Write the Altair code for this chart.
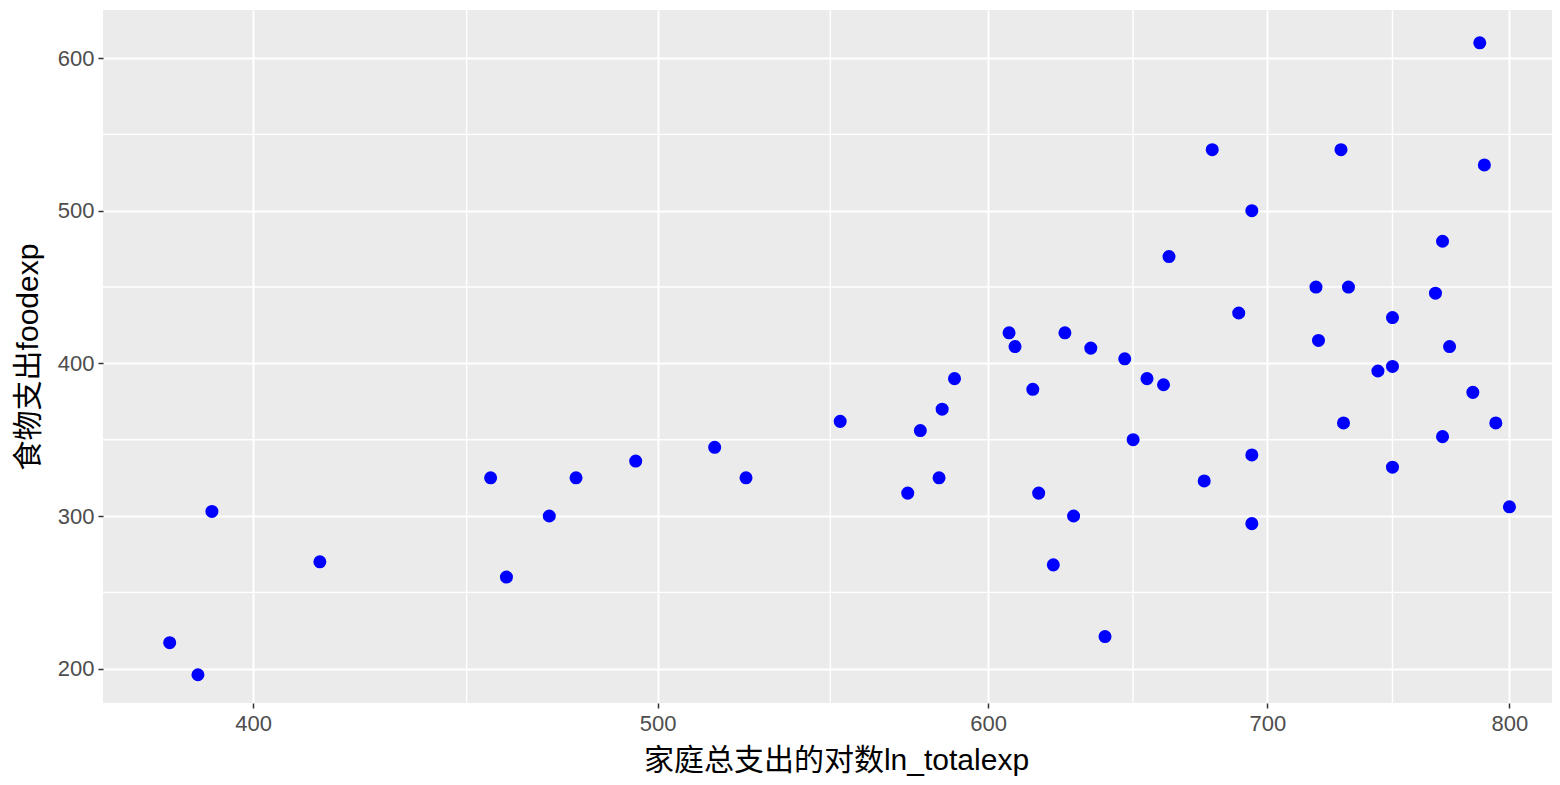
import altair as alt
import pandas as pd

# data
totalexp = [382, 388, 391, 415, 456, 460, 471, 478, 494, 516, 525, 553, 574, 578,
            584, 585, 589, 607, 609, 615, 617, 622, 626, 629, 635, 640, 647, 650,
            655, 661, 663, 676, 679, 689, 694, 694, 694, 719, 720, 729, 730, 732,
            744, 750, 750, 750, 768, 771, 771, 774, 784, 787, 789, 794, 800]
foodexp = [217, 196, 303, 270, 325, 260, 300, 325, 336, 345, 325, 362, 315, 356,
           325, 370, 390, 420, 411, 383, 315, 268, 420, 300, 410, 221, 403, 350,
           390, 386, 470, 323, 540, 433, 500, 340, 295, 450, 415, 540, 361, 450,
           395, 430, 398, 332, 446, 480, 352, 411, 381, 610, 530, 361, 306]

x_ticks = [400, 500, 600, 700, 800]
y_ticks = [200, 300, 400, 500, 600]
x_minor = [450, 550, 650, 750]
y_minor = [250, 350, 450, 550]

x_title = "家庭总支出的对数ln_totalexp"
y_title = "食物支出foodexp"

FONT = "Liberation Sans, Arial, Noto Sans CJK SC, sans-serif"

df = pd.DataFrame({"totalexp": totalexp, "foodexp": foodexp})

xscale = alt.Scale(type="log", domain=[368.2, 819], nice=False, zero=False)
yscale = alt.Scale(domain=[177.5, 631.5], nice=False, zero=False)

W, H = 1449, 693

xaxis = alt.Axis(values=x_ticks, format="d", title=x_title,
                 titleX=733, titleY=57, titleAlign="center",
                 titleBaseline="middle", labelPadding=5)
yaxis = alt.Axis(values=y_ticks, format="d", title=y_title,
                 titleX=-75, titleY=H / 2, titleAngle=-90,
                 titleAlign="center", titleBaseline="middle",
                 labelPadding=4)

xminor = alt.Chart(pd.DataFrame({"totalexp": x_minor})).mark_rule(
    color="white", strokeWidth=1.4
).encode(x=alt.X("totalexp:Q", scale=xscale, axis=xaxis))

yminor = alt.Chart(pd.DataFrame({"foodexp": y_minor})).mark_rule(
    color="white", strokeWidth=1.4
).encode(y=alt.Y("foodexp:Q", scale=yscale, axis=yaxis))

points = alt.Chart(df).mark_circle(
    color="#0000FF", opacity=1, size=170
).encode(
    x=alt.X("totalexp:Q", scale=xscale, axis=xaxis),
    y=alt.Y("foodexp:Q", scale=yscale, axis=yaxis),
)

chart = alt.layer(xminor, yminor, points).properties(
    width=W, height=H,
    padding={"left": 95, "top": 2, "right": 0, "bottom": 74},
    autosize=alt.AutoSizeParams(type="none"),
    background="white",
).configure_view(
    fill="#EBEBEB", strokeWidth=0
).configure_axis(
    grid=True, gridColor="white", gridWidth=2, domain=False,
    tickColor="#333333", tickWidth=1.5, tickSize=5,
    labelFont=FONT, labelFontSize=22, labelColor="#4D4D4D",
    titleFont=FONT, titleFontSize=30, titleColor="#000000",
    titleFontWeight="normal",
)

chart.save("out.html", embed_options={"renderer": "svg", "actions": False})
